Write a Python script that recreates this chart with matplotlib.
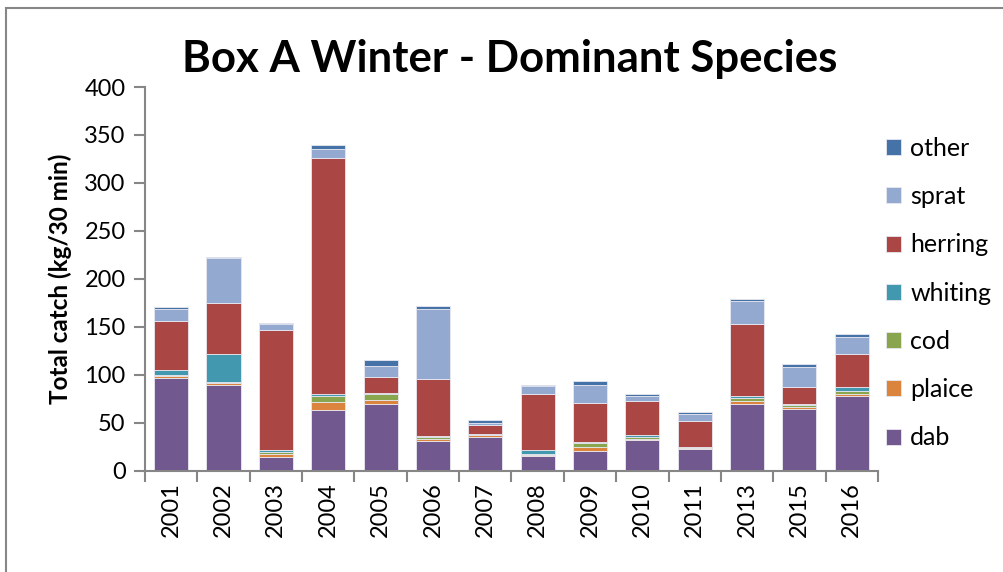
import numpy as np
import matplotlib
matplotlib.use('Agg')
import matplotlib.pyplot as plt
from matplotlib.patches import Rectangle

plt.rcParams['font.family'] = ['Lato', 'DejaVu Sans']

years = ['2001', '2002', '2003', '2004', '2005', '2006', '2007',
         '2008', '2009', '2010', '2011', '2013', '2015', '2016']

# values (kg / 30 min), stacked bottom to top
dab = [97, 90, 15, 64, 70, 31, 35, 16, 21, 32, 22.5, 70, 65, 78.5]
plaice = [2, 1.3, 2.5, 8, 4, 2.5, 2.5, 1, 3.5, 1.8, 1, 2.5, 1.5, 2]
cod = [1, 1.1, 2, 6.5, 6, 2, 0.5, 1, 4.5, 1.4, 1.4, 4, 2.5, 2.5]
whiting = [5, 29.7, 2.5, 1.8, 0.8, 0.5, 0.5, 4, 1, 2, 0.3, 1.5, 0.7, 4.2]
herring = [51, 53.3, 124.5, 246, 17, 60, 9, 58.5, 41, 36, 27, 75, 17.3, 34.6]
sprat = [13, 46, 6.3, 9.5, 12, 72.5, 2, 8.3, 19, 5, 7, 24, 21.8, 17.6]
other = [1.5, 1, 1.3, 4, 6, 3, 4, 1.1, 4, 2.4, 2, 1.7, 2.4, 3.5]

series = [
    ('dab', dab, '#71588F'),
    ('plaice', plaice, '#DB843D'),
    ('cod', cod, '#89A54E'),
    ('whiting', whiting, '#4198AF'),
    ('herring', herring, '#AA4643'),
    ('sprat', sprat, '#93A9CF'),
    ('other', other, '#4572A7'),
]

fig = plt.figure(figsize=(10.04, 5.72), dpi=100)
ax = fig.add_axes([0.1444, 0.1766, 0.7301, 0.6713])

x = np.arange(len(years))
bottom = np.zeros(len(years))
handles = []
for name, vals, col in series:
    vals = np.array(vals, dtype=float)
    bars = ax.bar(x, vals, width=0.65, bottom=bottom, color=col,
                  edgecolor='#e8e8f0', linewidth=0.6, label=name)
    handles.append(bars)
    bottom += vals

ax.set_xlim(-0.5, len(years) - 0.5)
ax.set_ylim(0, 400)
ax.set_yticks(np.arange(0, 401, 50))
ax.set_xticks(x)
ax.set_xticklabels(years, rotation=90, fontsize=17)
ax.tick_params(axis='x', length=0, pad=8)
ax.set_xticks(np.arange(-0.5, len(years)), minor=True)
ax.tick_params(axis='x', which='minor', length=8, width=1.5, color='#868686')
ax.tick_params(axis='y', labelsize=17, length=8, width=1.5, color='#868686', pad=6)

for s in ['top', 'right']:
    ax.spines[s].set_visible(False)
for s in ['left', 'bottom']:
    ax.spines[s].set_color('#868686')
    ax.spines[s].set_linewidth(1.5)

ax.set_ylabel('Total catch (kg/30 min)', fontsize=17.5, fontweight='bold', labelpad=9)
fig.text(0.508, 0.897, 'Box A Winter - Dominant Species', fontsize=31.5,
         fontweight='bold', ha='center', va='center')

fig.legend(handles[::-1], [s[0] for s in series][::-1], loc='upper left',
           bbox_to_anchor=(0.873, 0.778), frameon=False, fontsize=18,
           handlelength=0.6, handleheight=0.6, handletextpad=0.35,
           labelspacing=1.01, borderaxespad=0)

# outer chart frame (only left and top visible in the crop)
fig.patches.append(Rectangle((0.006, -0.1), 1.2, 1.086, transform=fig.transFigure,
                             fill=False, edgecolor='#868686', linewidth=1.5))

fig.savefig('out.png', dpi=100)
